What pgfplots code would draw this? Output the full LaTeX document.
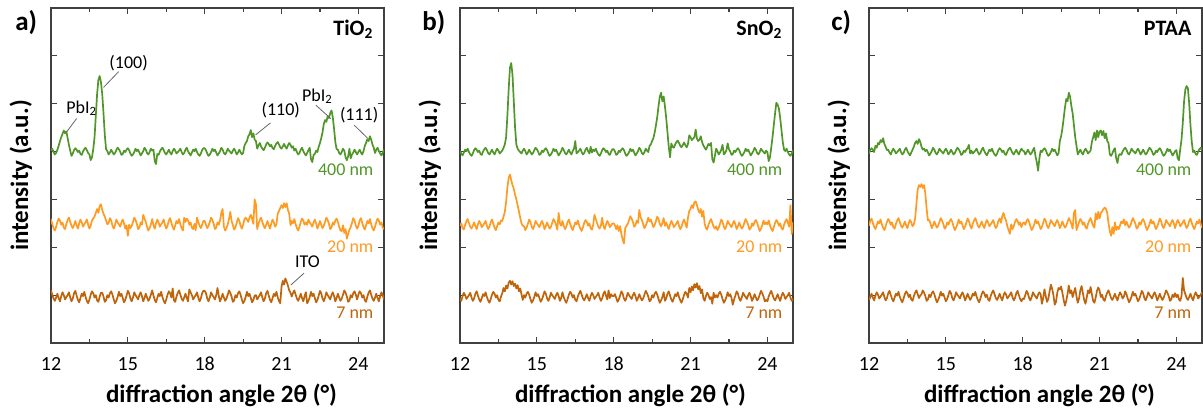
\documentclass[border=0pt]{standalone}
\usepackage{fontspec}
\setmainfont{Carlito}
\usepackage{pgfplots}
\usepackage{pgfplotstable}
\pgfplotsset{compat=1.18}
\definecolor{cg}{RGB}{80,150,40}
\definecolor{co}{RGB}{255,155,35}
\definecolor{cb}{RGB}{192,100,12}

\pgfplotstableread{
x g o b
12.00 4.02 2.59 1.10
12.05 4.06 2.48 1.01
12.10 3.99 2.40 0.93
12.15 3.94 2.35 0.88
12.20 3.97 2.43 0.95
12.25 4.04 2.53 1.03
12.30 4.12 2.60 0.94
12.35 4.22 2.56 0.87
12.40 4.30 2.47 0.98
12.45 4.37 2.52 1.06
12.50 4.44 2.41 1.00
12.55 4.38 2.38 0.91
12.60 4.42 2.49 0.96
12.65 4.28 2.57 1.00
12.70 4.14 2.62 1.06
12.75 4.02 2.53 0.95
12.80 3.91 2.45 0.87
12.85 3.96 2.40 0.93
12.90 4.03 2.47 1.04
12.95 4.07 2.55 1.09
13.00 4.04 2.46 0.99
13.05 3.99 2.39 0.90
13.10 4.02 2.50 0.85
13.15 3.95 2.58 0.94
13.20 3.93 2.52 1.03
13.25 4.00 2.43 0.98
13.30 4.05 2.48 1.07
13.35 4.08 2.52 0.96
13.40 4.03 2.58 0.88
13.45 3.97 2.47 0.83
13.50 3.94 2.39 0.91
13.55 3.82 2.45 1.01
13.60 3.88 2.56 1.08
13.65 4.05 2.60 1.04
13.70 4.30 2.64 0.95
13.75 4.75 2.72 1.00
13.80 5.20 2.80 0.89
13.85 5.50 2.72 0.86
13.90 5.58 2.86 0.97
13.95 5.45 2.90 1.05
14.00 5.20 2.78 1.05
14.05 4.80 2.70 0.97
14.10 4.35 2.64 0.86
14.15 4.05 2.56 0.89
14.20 4.01 2.48 1.00
14.25 3.94 2.51 0.95
14.30 3.98 2.61 1.04
14.35 4.04 2.56 1.08
14.40 3.99 2.45 1.01
14.45 3.94 2.39 0.91
14.50 3.97 2.47 0.83
14.55 4.03 2.58 0.88
14.60 4.08 2.52 0.96
14.65 4.05 2.48 1.07
14.70 4.00 2.43 0.98
14.75 3.93 2.52 1.03
14.80 3.95 2.58 0.94
14.85 4.02 2.50 0.85
14.90 3.99 2.39 0.90
14.95 4.04 2.46 0.99
15.00 4.07 2.24 1.09
15.05 4.03 2.47 1.04
15.10 3.96 2.40 0.93
15.15 3.91 2.45 0.87
15.20 3.94 2.53 0.95
15.25 3.99 2.62 1.06
15.30 4.06 2.57 1.00
15.35 4.01 2.49 0.96
15.40 4.04 2.38 0.91
15.45 3.98 2.41 1.00
15.50 3.92 2.52 1.06
15.55 3.96 2.47 0.98
15.60 4.01 2.68 0.87
15.65 4.08 2.60 0.94
15.70 4.04 2.53 1.03
15.75 3.97 2.43 0.95
15.80 3.94 2.35 0.88
15.85 3.99 2.40 0.93
15.90 4.06 2.48 1.01
15.95 4.02 2.59 1.10
16.00 4.04 2.46 0.99
16.05 3.80 2.39 0.90
16.10 3.74 2.50 0.85
16.15 3.95 2.58 0.94
16.20 3.93 2.52 1.03
16.25 4.00 2.43 0.98
16.30 4.05 2.48 1.07
16.35 4.08 2.52 0.96
16.40 4.03 2.58 0.88
16.45 3.97 2.47 0.83
16.50 3.94 2.39 0.91
16.55 3.99 2.45 1.01
16.60 4.04 2.56 1.08
16.65 3.98 2.61 1.04
16.70 3.94 2.51 0.95
16.75 4.01 2.42 1.14
16.80 4.06 2.37 0.89
16.85 4.02 2.46 0.86
16.90 3.96 2.55 0.97
16.95 3.99 2.50 1.05
17.00 4.02 2.59 1.10
17.05 4.06 2.48 1.01
17.10 3.99 2.40 0.93
17.15 3.94 2.35 0.88
17.20 3.97 2.62 0.95
17.25 4.04 2.53 1.03
17.30 4.08 2.60 0.94
17.35 4.01 2.56 0.87
17.40 3.96 2.47 1.12
17.45 3.92 2.52 1.06
17.50 3.98 2.41 1.00
17.55 4.04 2.38 0.91
17.60 4.01 2.49 0.96
17.65 4.06 2.36 1.00
17.70 3.99 2.62 1.06
17.75 3.94 2.53 0.95
17.80 3.91 2.45 0.87
17.85 3.96 2.40 0.93
17.90 4.03 2.47 1.04
17.95 4.07 2.55 1.09
18.00 4.07 2.55 1.09
18.05 4.03 2.47 1.04
18.10 3.96 2.40 0.93
18.15 3.91 2.45 0.87
18.20 3.94 2.53 0.95
18.25 3.99 2.62 1.06
18.30 4.06 2.57 1.00
18.35 4.01 2.49 0.96
18.40 4.04 2.38 0.91
18.45 3.98 2.41 1.00
18.50 3.92 2.52 1.15
18.55 3.96 2.47 0.98
18.60 4.01 2.56 0.87
18.65 4.08 2.72 0.94
18.70 4.04 2.80 1.03
18.75 3.97 2.43 0.95
18.80 3.94 2.35 0.88
18.85 3.99 2.40 0.93
18.90 4.06 2.48 1.01
18.95 4.02 2.59 1.10
19.00 3.99 2.74 1.05
19.05 3.96 2.55 0.97
19.10 4.02 2.46 0.86
19.15 4.06 2.37 0.89
19.20 4.01 2.42 1.00
19.25 3.94 2.51 0.95
19.30 3.98 2.61 1.04
19.35 4.04 2.56 1.08
19.40 3.99 2.45 1.01
19.45 3.94 2.39 0.91
19.50 3.97 2.47 0.83
19.55 4.12 2.58 0.88
19.60 4.18 2.62 0.96
19.65 4.22 2.58 1.07
19.70 4.32 2.53 0.98
19.75 4.36 2.62 1.03
19.80 4.45 2.68 0.94
19.85 4.30 2.60 0.85
19.90 4.38 2.49 0.90
19.95 4.25 3.00 0.99
20.00 4.22 2.90 1.00
20.05 4.06 2.38 0.91
20.10 4.13 2.49 0.96
20.15 4.18 2.57 1.00
20.20 4.11 2.62 1.06
20.25 4.06 2.53 0.95
20.30 4.03 2.45 0.87
20.35 4.08 2.40 0.93
20.40 4.15 2.47 1.04
20.45 4.19 2.55 1.09
20.50 4.16 2.46 0.99
20.55 4.11 2.39 0.90
20.60 4.14 2.50 0.85
20.65 4.07 2.58 0.94
20.70 4.05 2.52 1.03
20.75 4.12 2.43 0.98
20.80 4.17 2.48 1.07
20.85 4.20 2.70 0.96
20.90 4.15 2.76 0.88
20.95 4.09 2.82 0.83
21.00 4.06 2.88 1.18
21.05 4.11 2.82 1.30
21.10 4.16 2.92 1.22
21.15 4.10 2.84 1.35
21.20 4.06 2.92 1.28
21.25 4.13 2.78 1.20
21.30 4.18 2.70 1.10
21.35 4.14 2.46 1.05
21.40 4.08 2.55 0.97
21.45 4.11 2.50 1.05
21.50 4.02 2.59 1.10
21.55 4.06 2.48 1.01
21.60 3.99 2.40 0.93
21.65 3.94 2.35 0.88
21.70 3.97 2.43 0.95
21.75 4.04 2.53 1.03
21.80 4.08 2.60 0.94
21.85 4.01 2.56 0.87
21.90 3.96 2.47 0.98
21.95 3.92 2.52 1.06
22.00 3.97 2.47 0.83
22.05 4.03 2.58 0.88
22.10 4.08 2.52 0.96
22.15 3.84 2.48 1.07
22.20 3.78 2.43 0.98
22.25 3.93 2.52 1.03
22.30 3.95 2.58 0.94
22.35 4.02 2.50 0.85
22.40 3.99 2.39 0.90
22.45 4.10 2.46 0.99
22.50 4.18 2.55 1.09
22.55 4.28 2.47 1.04
22.60 4.40 2.40 0.93
22.65 4.58 2.45 0.87
22.70 4.66 2.53 0.95
22.75 4.62 2.62 1.06
22.80 4.74 2.57 1.00
22.85 4.70 2.49 0.96
22.90 4.80 2.38 0.91
22.95 4.86 2.41 1.00
23.00 4.72 2.52 1.06
23.05 4.48 2.47 0.98
23.10 4.20 2.56 0.87
23.15 4.05 2.60 0.94
23.20 4.04 2.53 1.03
23.25 3.97 2.43 0.95
23.30 3.94 2.35 0.88
23.35 3.99 2.34 0.93
23.40 4.06 2.46 1.01
23.45 4.02 2.30 1.10
23.50 3.88 2.38 1.05
23.55 3.82 2.18 0.97
23.60 3.90 2.28 0.86
23.65 4.06 2.37 0.89
23.70 3.86 2.42 1.00
23.75 3.94 2.51 0.95
23.80 3.98 2.61 1.04
23.85 4.04 2.56 1.08
23.90 3.99 2.45 1.01
23.95 3.94 2.39 0.91
24.00 3.99 2.45 1.01
24.05 4.04 2.56 1.08
24.10 3.98 2.61 1.04
24.15 3.94 2.51 0.95
24.20 4.01 2.42 1.00
24.25 4.12 2.37 0.89
24.30 4.18 2.46 0.86
24.35 4.26 2.55 0.97
24.40 4.22 2.50 1.05
24.45 4.32 2.59 1.10
24.50 4.25 2.48 1.01
24.55 4.15 2.40 0.93
24.60 4.08 2.35 0.88
24.65 3.97 2.43 0.95
24.70 4.04 2.53 1.03
24.75 4.08 2.60 0.94
24.80 4.01 2.56 0.87
24.85 3.96 2.47 0.98
24.90 3.92 2.52 1.06
24.95 3.98 2.41 1.00
25.00 4.04 2.38 0.91
}\tA

\pgfplotstableread{
x g o b
12.00 4.01 2.45 0.94
12.05 3.96 2.50 0.88
12.10 3.92 2.40 0.98
12.15 3.98 2.37 1.05
12.20 4.04 2.47 1.00
12.25 4.01 2.54 0.92
12.30 4.06 2.59 0.96
12.35 3.99 2.51 1.00
12.40 3.94 2.43 1.05
12.45 3.91 2.39 0.95
12.50 3.96 2.45 0.88
12.55 4.03 2.52 0.93
12.60 4.07 2.44 1.03
12.65 4.04 2.38 1.08
12.70 3.99 2.48 0.99
12.75 4.02 2.55 0.91
12.80 3.95 2.50 0.86
12.85 3.93 2.42 0.94
12.90 4.00 2.46 1.02
12.95 4.05 2.50 0.98
13.00 4.08 2.55 1.06
13.05 4.03 2.45 0.96
13.10 3.97 2.38 0.89
13.15 3.94 2.43 0.84
13.20 3.99 2.53 0.92
13.25 4.04 2.58 1.01
13.30 3.98 2.49 1.07
13.35 3.94 2.41 1.03
13.40 4.01 2.36 0.95
13.45 4.06 2.44 1.00
13.50 4.02 2.52 0.90
13.55 3.96 2.48 0.87
13.60 3.99 2.56 0.97
13.65 4.02 2.55 1.04
13.70 4.08 2.64 1.15
13.75 4.15 2.74 1.08
13.80 4.30 2.95 1.20
13.85 4.75 3.25 1.14
13.90 5.30 3.45 1.26
13.95 5.75 3.52 1.30
14.00 5.85 3.40 1.22
14.05 5.60 3.30 1.29
14.10 5.05 3.22 1.19
14.15 4.50 3.10 1.24
14.20 4.15 3.00 1.14
14.25 4.06 2.88 1.21
14.30 4.02 2.75 1.08
14.35 3.99 2.62 1.14
14.40 3.96 2.50 1.02
14.45 4.02 2.45 0.90
14.50 4.06 2.44 1.00
14.55 4.01 2.36 0.95
14.60 3.94 2.41 1.03
14.65 3.98 2.49 1.07
14.70 4.04 2.58 1.01
14.75 3.99 2.53 0.92
14.80 3.94 2.43 0.84
14.85 3.97 2.38 0.89
14.90 4.03 2.45 0.96
14.95 4.08 2.55 1.06
15.00 4.05 2.50 0.98
15.05 4.00 2.46 1.02
15.10 3.93 2.42 0.94
15.15 3.95 2.50 0.86
15.20 4.02 2.55 0.91
15.25 3.99 2.48 0.99
15.30 4.04 2.38 1.08
15.35 4.07 2.44 1.03
15.40 4.03 2.52 0.93
15.45 3.96 2.45 0.88
15.50 3.91 2.39 0.95
15.55 3.94 2.43 1.05
15.60 3.99 2.51 1.00
15.65 4.06 2.59 0.96
15.70 4.01 2.54 0.92
15.75 4.04 2.47 1.00
15.80 3.98 2.37 1.05
15.85 3.92 2.72 0.98
15.90 3.96 2.50 0.88
15.95 4.01 2.45 0.94
16.00 4.08 2.55 1.06
16.05 4.03 2.45 0.96
16.10 3.97 2.38 0.89
16.15 3.94 2.43 0.84
16.20 3.99 2.53 0.92
16.25 4.04 2.58 1.01
16.30 3.98 2.49 1.07
16.35 3.94 2.41 1.03
16.40 4.01 2.36 0.95
16.45 4.06 2.44 1.00
16.50 4.22 2.52 0.90
16.55 3.96 2.48 0.87
16.60 3.99 2.56 0.97
16.65 4.02 2.46 1.04
16.70 4.06 2.39 1.09
16.75 3.99 2.34 1.01
16.80 3.94 2.42 0.93
16.85 3.97 2.51 0.89
16.90 4.04 2.57 0.95
16.95 4.08 2.53 1.02
17.00 4.01 2.45 0.94
17.05 3.96 2.50 0.88
17.10 4.10 2.40 0.98
17.15 3.98 2.37 1.05
17.20 4.04 2.47 1.00
17.25 4.01 2.68 0.92
17.30 4.06 2.59 0.96
17.35 3.99 2.51 1.00
17.40 3.94 2.43 1.05
17.45 3.91 2.39 0.95
17.50 3.96 2.45 0.88
17.55 4.03 2.62 0.93
17.60 4.07 2.44 1.03
17.65 4.04 2.38 1.08
17.70 3.99 2.48 0.99
17.75 4.02 2.55 0.91
17.80 3.95 2.50 1.10
17.85 3.93 2.42 0.94
17.90 4.00 2.46 1.02
17.95 4.05 2.50 0.98
18.00 4.05 2.50 0.98
18.05 4.00 2.46 1.02
18.10 3.93 2.38 0.94
18.15 3.95 2.46 0.86
18.20 4.02 2.34 0.91
18.25 3.99 2.44 0.99
18.30 4.04 2.28 1.08
18.35 4.07 2.16 1.03
18.40 4.03 2.08 0.93
18.45 3.96 2.40 0.88
18.50 3.91 2.45 0.95
18.55 3.94 2.49 1.05
18.60 3.99 2.57 1.00
18.65 4.06 2.65 0.96
18.70 4.01 2.60 0.92
18.75 4.04 2.53 1.00
18.80 3.98 2.43 1.05
18.85 3.92 2.46 0.98
18.90 3.96 2.56 0.88
18.95 4.01 2.51 0.94
19.00 4.08 2.78 1.02
19.05 4.04 2.63 0.95
19.10 3.97 2.57 0.89
19.15 3.94 2.48 0.93
19.20 3.99 2.40 1.01
19.25 4.06 2.45 1.09
19.30 4.02 2.52 1.04
19.35 3.99 2.62 0.97
19.40 4.12 2.54 0.87
19.45 4.15 2.58 0.90
19.50 4.22 2.50 1.00
19.55 4.28 2.42 0.95
19.60 4.40 2.47 1.03
19.65 4.55 2.55 1.07
19.70 4.72 2.64 1.01
19.75 4.95 2.59 0.92
19.80 5.15 2.49 0.84
19.85 5.23 2.44 0.89
19.90 5.05 2.51 0.96
19.95 5.15 2.61 1.06
20.00 4.95 2.45 0.88
20.05 4.70 2.52 0.93
20.10 4.40 2.44 1.03
20.15 4.10 2.38 1.08
20.20 3.88 2.48 0.99
20.25 4.17 2.55 0.91
20.30 4.10 2.50 0.86
20.35 4.08 2.42 0.94
20.40 4.15 2.46 1.02
20.45 4.20 2.50 0.98
20.50 4.23 2.55 1.06
20.55 4.18 2.45 0.96
20.60 4.12 2.38 0.89
20.65 4.09 2.43 0.84
20.70 4.14 2.53 0.92
20.75 4.19 2.58 1.01
20.80 4.13 2.49 1.07
20.85 4.09 2.41 1.03
20.90 4.16 2.62 0.95
20.95 4.34 2.76 1.15
21.00 4.30 2.80 1.06
21.05 4.24 2.88 1.18
21.10 4.27 2.82 1.10
21.15 4.30 2.94 1.23
21.20 4.46 2.96 1.16
21.25 4.27 2.88 1.25
21.30 4.22 2.78 1.12
21.35 4.25 2.72 1.19
21.40 4.32 2.80 1.04
21.45 4.20 2.64 1.12
21.50 4.13 2.76 0.94
21.55 4.08 2.50 0.88
21.60 4.04 2.40 0.98
21.65 4.10 2.37 1.05
21.70 4.16 2.47 1.00
21.75 4.13 2.54 0.92
21.80 4.18 2.59 0.96
21.85 3.84 2.51 0.82
21.90 3.77 2.43 1.05
21.95 3.91 2.39 0.95
22.00 4.06 2.44 1.00
22.05 4.01 2.36 0.95
22.10 3.94 2.41 1.03
22.15 3.98 2.49 1.07
22.20 4.04 2.58 1.01
22.25 4.14 2.53 0.92
22.30 3.94 2.43 0.84
22.35 3.97 2.38 0.89
22.40 4.03 2.45 0.96
22.45 4.17 2.55 1.06
22.50 4.05 2.50 0.98
22.55 4.00 2.46 1.02
22.60 3.93 2.42 0.94
22.65 3.95 2.50 0.80
22.70 4.02 2.55 0.91
22.75 3.99 2.48 0.99
22.80 4.04 2.38 1.08
22.85 4.07 2.44 1.03
22.90 4.03 2.52 0.93
22.95 3.96 2.45 0.88
23.00 3.91 2.39 0.95
23.05 3.94 2.43 1.05
23.10 3.99 2.51 1.00
23.15 4.06 2.59 0.96
23.20 4.01 2.54 0.92
23.25 4.04 2.47 1.00
23.30 3.98 2.37 1.05
23.35 3.92 2.40 0.98
23.40 3.96 2.50 0.88
23.45 4.01 2.45 0.94
23.50 4.08 2.53 1.02
23.55 4.04 2.57 0.95
23.60 3.97 2.51 0.89
23.65 3.94 2.42 0.93
23.70 3.99 2.34 1.01
23.75 4.06 2.39 1.09
23.80 4.02 2.46 1.04
23.85 3.99 2.56 0.97
23.90 3.96 2.48 0.87
23.95 4.02 2.52 0.90
24.00 3.99 2.48 0.87
24.05 3.80 2.56 0.97
24.10 3.88 2.46 1.04
24.15 4.08 2.39 1.09
24.20 4.30 2.34 1.01
24.25 4.55 2.42 0.93
24.30 4.80 2.51 0.89
24.35 5.02 2.57 0.95
24.40 4.98 2.53 1.02
24.45 4.90 2.45 0.94
24.50 4.70 2.50 0.88
24.55 4.45 2.40 0.98
24.60 4.20 2.37 1.05
24.65 4.04 2.47 1.00
24.70 4.01 2.54 0.92
24.75 4.06 2.59 0.96
24.80 3.99 2.51 1.00
24.85 3.94 2.43 1.05
24.90 3.91 2.88 0.95
24.95 3.96 2.28 0.88
25.00 4.03 2.52 0.93
}\tB

\pgfplotstableread{
x g o b
12.00 3.96 2.45 0.90
12.05 4.03 2.55 0.96
12.10 4.07 2.60 1.03
12.15 4.04 2.51 0.95
12.20 3.99 2.43 0.89
12.25 4.12 2.38 0.99
12.30 4.08 2.46 1.06
12.35 4.18 2.54 1.01
12.40 4.15 2.50 0.93
12.45 4.24 2.58 0.97
12.50 4.20 2.48 1.01
12.55 4.28 2.41 1.06
12.60 4.16 2.36 0.96
12.65 4.10 2.44 0.89
12.70 4.03 2.53 0.94
12.75 4.04 2.59 1.04
12.80 3.98 2.55 1.09
12.85 3.94 2.47 1.00
12.90 4.01 2.52 0.92
12.95 4.06 2.42 0.87
13.00 4.02 2.39 0.95
13.05 3.96 2.49 1.03
13.10 3.99 2.56 0.99
13.15 4.02 2.61 1.07
13.20 4.06 2.53 0.97
13.25 3.99 2.45 0.90
13.30 3.94 2.41 0.85
13.35 3.97 2.47 0.93
13.40 4.04 2.54 1.02
13.45 4.08 2.46 1.08
13.50 4.01 2.40 1.04
13.55 3.96 2.50 0.96
13.60 3.92 2.57 1.01
13.65 3.98 2.52 0.91
13.70 4.04 2.44 0.88
13.75 4.10 2.48 0.98
13.80 4.18 2.60 1.05
13.85 4.22 2.90 1.10
13.90 4.16 3.20 1.02
13.95 4.26 3.30 0.94
14.00 4.20 3.26 0.99
14.05 4.10 3.32 1.02
14.10 4.04 3.24 1.10
14.15 4.06 3.30 1.05
14.20 4.01 3.12 0.98
14.25 4.04 2.80 0.88
14.30 3.98 2.56 0.91
14.35 3.92 2.57 1.01
14.40 3.96 2.50 0.96
14.45 4.01 2.40 1.04
14.50 4.08 2.46 1.08
14.55 4.04 2.54 1.02
14.60 3.97 2.47 0.93
14.65 3.94 2.41 0.85
14.70 3.99 2.45 0.90
14.75 4.06 2.53 0.97
14.80 4.02 2.61 1.07
14.85 3.99 2.56 0.99
14.90 3.96 2.49 1.03
14.95 4.02 2.39 0.95
15.00 4.06 2.42 0.87
15.05 4.01 2.52 0.92
15.10 3.94 2.47 1.00
15.15 3.98 2.55 1.09
15.20 4.04 2.59 1.04
15.25 3.99 2.53 0.94
15.30 3.94 2.44 0.89
15.35 3.97 2.36 0.96
15.40 4.03 2.41 1.06
15.45 4.08 2.48 1.01
15.50 4.05 2.58 0.97
15.55 4.00 2.50 0.93
15.60 3.93 2.54 1.01
15.65 3.95 2.46 1.06
15.70 4.02 2.38 0.99
15.75 3.99 2.43 0.89
15.80 4.04 2.51 0.95
15.85 4.07 2.60 1.03
15.90 4.14 2.55 0.96
15.95 3.96 2.45 0.90
16.00 4.02 2.39 0.95
16.05 3.96 2.49 1.03
16.10 3.99 2.56 0.99
16.15 4.02 2.61 1.07
16.20 4.06 2.53 0.97
16.25 3.99 2.45 0.90
16.30 3.94 2.41 0.85
16.35 3.97 2.47 0.93
16.40 4.04 2.54 1.02
16.45 4.08 2.46 1.08
16.50 4.01 2.40 1.04
16.55 3.96 2.50 0.96
16.60 3.92 2.57 1.01
16.65 3.98 2.52 0.91
16.70 4.04 2.44 0.88
16.75 4.01 2.48 0.98
16.80 4.06 2.52 1.05
16.85 3.99 2.57 1.10
16.90 3.94 2.47 1.02
16.95 3.91 2.40 0.94
17.00 3.96 2.45 0.90
17.05 4.03 2.55 0.96
17.10 4.07 2.60 1.03
17.15 4.04 2.51 0.95
17.20 3.99 2.64 0.89
17.25 4.02 2.72 0.99
17.30 3.95 2.62 1.06
17.35 3.93 2.56 1.01
17.40 4.00 2.44 0.93
17.45 4.05 2.36 0.97
17.50 4.08 2.28 1.01
17.55 4.03 2.48 1.06
17.60 3.97 2.38 0.96
17.65 3.94 2.44 0.89
17.70 3.99 2.53 0.94
17.75 4.04 2.59 1.04
17.80 3.98 2.55 1.09
17.85 3.94 2.47 1.00
17.90 4.01 2.52 0.92
17.95 4.06 2.42 0.87
18.00 4.02 2.50 0.93
18.05 4.01 2.52 0.92
18.10 3.94 2.47 1.00
18.15 3.98 2.55 1.09
18.20 4.04 2.59 1.04
18.25 3.99 2.53 0.94
18.30 3.94 2.44 0.89
18.35 3.97 2.36 0.96
18.40 4.03 2.41 1.06
18.45 4.08 2.48 1.01
18.50 3.90 2.58 0.97
18.55 3.78 2.50 0.93
18.60 3.60 2.54 1.01
18.65 3.85 2.46 1.06
18.70 4.02 2.38 1.02
18.75 3.99 2.43 0.82
18.80 4.04 2.51 0.94
18.85 4.07 2.60 1.12
18.90 4.03 2.55 0.98
18.95 3.96 2.45 0.86
19.00 3.91 2.40 0.92
19.05 3.94 2.47 1.08
19.10 3.99 2.57 1.22
19.15 4.06 2.52 1.13
19.20 4.01 2.48 1.00
19.25 4.04 2.44 0.80
19.30 3.98 2.52 0.86
19.35 3.92 2.57 1.05
19.40 3.96 2.50 1.15
19.45 4.22 2.40 1.12
19.50 4.32 2.46 1.18
19.55 4.48 2.54 1.05
19.60 4.70 2.47 0.90
19.65 4.92 2.41 0.78
19.70 5.10 2.45 0.88
19.75 5.05 2.53 1.02
19.80 5.23 2.61 1.20
19.85 5.15 2.56 1.04
19.90 4.95 2.49 1.10
19.95 4.80 2.39 0.96
20.00 4.55 2.72 1.06
20.05 4.30 2.78 1.15
20.10 4.12 2.36 0.97
20.15 3.94 2.44 0.84
20.20 3.99 2.53 0.93
20.25 4.04 2.59 1.10
20.30 3.98 2.55 1.19
20.35 3.94 2.47 1.04
20.40 4.01 2.52 0.90
20.45 4.06 2.42 0.82
20.50 4.02 2.39 0.95
20.55 3.96 2.49 1.10
20.60 3.99 2.56 1.04
20.65 4.02 2.61 1.17
20.70 4.20 2.53 1.02
20.75 4.30 2.45 0.88
20.80 4.40 2.41 0.84
20.85 4.24 2.71 0.95
20.90 4.44 2.58 1.09
20.95 4.30 2.74 1.16
21.00 4.42 2.60 1.10
21.05 4.44 2.72 0.96
21.10 4.34 2.75 1.01
21.15 4.43 2.80 0.91
21.20 4.28 2.83 0.88
21.25 4.38 2.80 0.98
21.30 4.22 2.72 1.05
21.35 4.18 2.50 1.10
21.40 3.94 2.34 1.02
21.45 3.91 2.24 0.94
21.50 3.96 2.42 0.90
21.55 4.03 2.28 0.96
21.60 4.07 2.52 1.03
21.65 3.86 2.36 0.95
21.70 3.76 2.43 0.89
21.75 3.92 2.38 0.99
21.80 3.95 2.46 1.06
21.85 3.93 2.54 1.01
21.90 4.00 2.50 0.93
21.95 4.05 2.58 0.97
22.00 4.08 2.46 1.08
22.05 4.04 2.54 1.02
22.10 3.97 2.47 0.93
22.15 3.94 2.41 0.85
22.20 3.99 2.45 0.90
22.25 4.06 2.53 0.97
22.30 4.02 2.61 1.07
22.35 3.99 2.56 0.99
22.40 3.96 2.49 1.03
22.45 4.02 2.39 0.95
22.50 4.06 2.42 0.87
22.55 4.01 2.52 0.92
22.60 3.94 2.47 1.00
22.65 3.98 2.55 1.09
22.70 4.04 2.59 1.04
22.75 3.99 2.53 0.94
22.80 3.94 2.44 0.89
22.85 3.97 2.36 0.96
22.90 4.03 2.41 1.06
22.95 4.08 2.48 1.01
23.00 4.05 2.58 0.97
23.05 4.00 2.50 0.93
23.10 3.93 2.54 1.01
23.15 3.95 2.46 1.06
23.20 4.02 2.38 0.99
23.25 3.99 2.43 0.89
23.30 4.04 2.51 0.95
23.35 4.07 2.60 1.03
23.40 4.03 2.55 0.96
23.45 3.96 2.45 0.90
23.50 3.91 2.40 0.94
23.55 3.94 2.47 1.02
23.60 3.99 2.57 1.10
23.65 4.06 2.52 1.05
23.70 4.01 2.48 0.98
23.75 4.04 2.44 0.88
23.80 3.98 2.52 0.91
23.85 3.92 2.57 1.01
23.90 3.96 2.50 0.96
23.95 4.01 2.40 1.04
24.00 4.03 2.50 0.96
24.05 3.86 2.57 1.01
24.10 3.82 2.52 0.91
24.15 4.05 2.44 0.88
24.20 4.25 2.48 0.98
24.25 4.60 2.52 1.36
24.30 5.05 2.57 1.10
24.35 5.30 2.47 1.02
24.40 5.37 2.40 0.94
24.45 5.32 2.45 0.90
24.50 5.00 2.55 0.96
24.55 4.55 2.60 1.03
24.60 4.20 2.51 0.95
24.65 3.99 2.43 0.89
24.70 4.02 2.38 0.99
24.75 3.95 2.46 1.06
24.80 3.93 2.54 1.01
24.85 4.00 2.50 0.93
24.90 4.05 2.58 0.97
24.95 4.08 2.48 1.01
25.00 4.03 2.41 1.06
}\tC

\pgfplotsset{panel/.style={
  width=166.5bp, height=167.5bp, scale only axis,
  xmin=12, xmax=25, ymin=0, ymax=7,
  xtick={12,15,18,21,24}, minor xtick={13.5,16.5,19.5,22.5},
  ytick={1,2,3,4,5,6}, yticklabels={},
  tick align=inside, xtick pos=both, ytick pos=both, xticklabel pos=lower,
  major tick length=3bp, minor tick length=2bp,
  axis line style={black!75, line width=0.8bp},
  every tick/.style={black!75, line width=0.6bp},
  tick label style={font=\fontsize{10bp}{12bp}\selectfont},
  /pgf/number format/assume math mode=true,
  xticklabel style={anchor=base, yshift=-13.5bp},
  label style={font=\bfseries\fontsize{12.5bp}{15bp}\selectfont},
  xlabel={diffraction angle 2θ (°)},
  ylabel={intensity (a.u.)},
  xlabel style={at={(axis description cs:0.512,-0.179)}, anchor=base},
  ylabel style={at={(axis description cs:-0.069,0.5)}, anchor=base},
  clip mode=individual,
  every axis plot/.append style={line width=0.85bp, line join=round},
}}
\newcommand{\nmfont}{\fontsize{9bp}{11bp}\selectfont}
\newcommand{\annfont}{\fontsize{9bp}{11bp}\selectfont}
\newcommand{\ttlfont}{\bfseries\fontsize{11bp}{13bp}\selectfont}
\newcommand{\pfont}{\bfseries\fontsize{13.5bp}{16bp}\selectfont}

\begin{document}
\begin{tikzpicture}
\useasboundingbox (-25.5bp,-38bp) rectangle (576bp,171.5bp);
% ---------- panel a
\begin{axis}[panel, at={(0bp,0bp)}, anchor=south west]
\addplot[cg] table[x=x,y=g]{\tA};
\addplot[co] table[x=x,y=o]{\tA};
\addplot[cb] table[x=x,y=b]{\tA};
\node[anchor=base east, inner sep=0pt, font=\ttlfont] at (axis cs:24.6,6.43) {TiO\textsubscript{2}};
\node[anchor=base west, inner sep=0pt, font=\pfont, xshift=-18bp] at (axis cs:12,6.54) {a)};
\node[anchor=base east, inner sep=0pt, font=\nmfont, text=cg] at (axis cs:24.6,3.49) {400 nm};
\node[anchor=base east, inner sep=0pt, font=\nmfont, text=co] at (axis cs:24.6,1.90) {20 nm};
\node[anchor=base east, inner sep=0pt, font=\nmfont, text=cb] at (axis cs:24.6,0.52) {7 nm};
\node[font=\annfont, inner sep=0pt] at (axis cs:15.03,5.84) {(100)};
\draw[black!60, line width=0.4bp] (axis cs:14.64,5.67) -- (axis cs:14.05,5.34);
\node[font=\annfont, inner sep=0pt] at (axis cs:13.20,4.90) {PbI\textsubscript{2}};
\draw[black!60, line width=0.4bp] (axis cs:13.0,4.69) -- (axis cs:12.61,4.41);
\node[font=\annfont, inner sep=0pt] at (axis cs:20.97,4.87) {(110)};
\draw[black!60, line width=0.4bp] (axis cs:20.57,4.60) -- (axis cs:19.99,4.35);
\node[font=\annfont, inner sep=0pt] at (axis cs:22.40,5.15) {PbI\textsubscript{2}};
\draw[black!60, line width=0.4bp] (axis cs:22.34,4.97) -- (axis cs:22.92,4.69);
\node[font=\annfont, inner sep=0pt] at (axis cs:24.03,4.76) {(111)};
\draw[black!60, line width=0.4bp] (axis cs:23.84,4.55) -- (axis cs:24.36,4.28);
\node[font=\annfont, inner sep=0pt] at (axis cs:22.01,1.70) {ITO};
\draw[black!60, line width=0.4bp] (axis cs:21.88,1.46) -- (axis cs:21.36,1.21);
\end{axis}
% ---------- panel b
\begin{axis}[panel, at={(204.5bp,0bp)}, anchor=south west]
\addplot[cg] table[x=x,y=g]{\tB};
\addplot[co] table[x=x,y=o]{\tB};
\addplot[cb] table[x=x,y=b]{\tB};
\node[anchor=base east, inner sep=0pt, font=\ttlfont] at (axis cs:24.6,6.43) {SnO\textsubscript{2}};
\node[anchor=base west, inner sep=0pt, font=\pfont, xshift=-19bp] at (axis cs:12,6.54) {b)};
\node[anchor=base east, inner sep=0pt, font=\nmfont, text=cg] at (axis cs:24.6,3.49) {400 nm};
\node[anchor=base east, inner sep=0pt, font=\nmfont, text=co] at (axis cs:24.6,1.90) {20 nm};
\node[anchor=base east, inner sep=0pt, font=\nmfont, text=cb] at (axis cs:24.6,0.52) {7 nm};
\end{axis}
% ---------- panel c
\begin{axis}[panel, at={(409bp,0bp)}, anchor=south west]
\addplot[cg] table[x=x,y=g]{\tC};
\addplot[co] table[x=x,y=o]{\tC};
\addplot[cb] table[x=x,y=b]{\tC};
\node[anchor=base east, inner sep=0pt, font=\ttlfont] at (axis cs:24.6,6.43) {PTAA};
\node[anchor=base west, inner sep=0pt, font=\pfont, xshift=-19bp] at (axis cs:12,6.54) {c)};
\node[anchor=base east, inner sep=0pt, font=\nmfont, text=cg] at (axis cs:24.6,3.49) {400 nm};
\node[anchor=base east, inner sep=0pt, font=\nmfont, text=co] at (axis cs:24.6,1.90) {20 nm};
\node[anchor=base east, inner sep=0pt, font=\nmfont, text=cb] at (axis cs:24.6,0.52) {7 nm};
\end{axis}
\end{tikzpicture}
\end{document}
